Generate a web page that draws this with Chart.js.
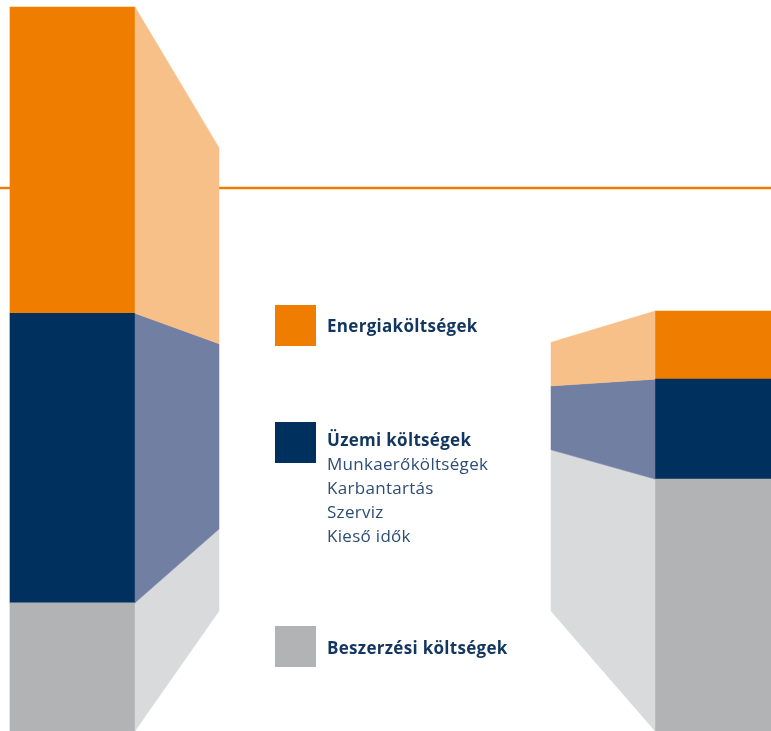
<!DOCTYPE html>
<html>
<head>
<meta charset="utf-8">
<script src="https://cdn.jsdelivr.net/npm/chart.js"></script>
<style>
  html, body { margin: 0; padding: 0; background: #fff; overflow: hidden; }
  #wrap { position: relative; width: 771px; height: 731px; }
  #costs { position: absolute; left: 0; top: 0; }
  .key { position: absolute; left: 275px; width: 41px; height: 41px; }
  .label { position: absolute; left: 327px; font-family: "Open Sans", sans-serif; font-size: 17px; line-height: 24px; letter-spacing: 0.3px; color: #2c4d77; white-space: nowrap; }
  .label b { color: #12365f; font-weight: 700; }
</style>
</head>
<body>
<div id="wrap">
  <canvas id="costs" width="771" height="731"></canvas>
  <div id="legend"></div>
</div>
<script>
// values in % of the left machine's total cost
const machines = ["Hagyományos", "Hatékony"];
const purchase = [17.7, 34.8];
const operating = [40.0, 13.8];
const energy = [42.3, 9.4];
const costNames = ["Beszerzési költségek", "Üzemi költségek", "Energiaköltségek"];
const operatingItems = ["Munkaerőköltségek", "Karbantartás", "Szerviz", "Kieső idők"];
const markerValue = 75;   // orange reference line
const horizonValue = 46;  // height the side faces shrink toward

const frontColors = ["#b2b3b5", "#00305e", "#ef7d00"];
const sideColors = ["#d9dadc", "#717fa2", "#f8c089"];

// side faces + reference line
const depth = {
  id: "depth",
  beforeDatasetsDraw(chart, args, opts) {
    const ctx = chart.ctx;
    const py = chart.scales.y.getPixelForValue(markerValue);
    ctx.save();
    ctx.strokeStyle = opts.lineColor;
    ctx.lineWidth = 2.5;
    ctx.beginPath();
    ctx.moveTo(0, py);
    ctx.lineTo(chart.width, py);
    ctx.stroke();
    ctx.restore();
  },
  afterDatasetsDraw(chart, args, opts) {
    const ctx = chart.ctx;
    const hy = chart.scales.y.getPixelForValue(horizonValue);
    const back = (p) => hy + opts.shrink * (p - hy);
    ctx.save();
    chart.data.datasets.forEach((ds, d) => {
      chart.getDatasetMeta(d).data.forEach((bar, i) => {
        const side = opts.sides[i];
        const x0 = side > 0 ? bar.x + bar.width / 2 : bar.x - bar.width / 2;
        const x1 = x0 + side;
        const top = Math.min(bar.y, bar.base);
        const bottom = Math.max(bar.y, bar.base);
        ctx.fillStyle = sideColors[d];
        ctx.strokeStyle = sideColors[d];
        ctx.lineWidth = 0.5;
        ctx.beginPath();
        ctx.moveTo(x0, top);
        ctx.lineTo(x1, back(top));
        ctx.lineTo(x1, back(bottom));
        ctx.lineTo(x0, bottom);
        ctx.closePath();
        ctx.fill();
        ctx.stroke();
      });
    });
    ctx.restore();
  }
};

new Chart(document.getElementById("costs"), {
  type: "bar",
  data: {
    labels: machines,
    datasets: [
      { label: costNames[0], data: purchase, backgroundColor: frontColors[0] },
      { label: costNames[1], data: operating, backgroundColor: frontColors[1] },
      { label: costNames[2], data: energy, backgroundColor: frontColors[2] },
    ],
  },
  options: {
    responsive: false,
    animation: false,
    events: [],
    layout: { padding: { left: 72.5, right: 53.5, top: 7, bottom: 0 } },
    datasets: { bar: { barThickness: 125, borderWidth: 0, clip: false } },
    scales: {
      x: { display: false, stacked: true, offset: false },
      y: { display: false, stacked: true, min: 0, max: 100 },
    },
    plugins: {
      legend: { display: false },
      tooltip: { enabled: false },
      depth: { lineColor: "#ef7d00", shrink: 0.64, sides: [84, -104] },
    },
  },
  plugins: [depth],
});

// legend
const legend = document.getElementById("legend");
function addRow(color, squareTop, textTop, title, items) {
  const sq = document.createElement("div");
  sq.className = "key";
  sq.style.top = squareTop + "px";
  sq.style.background = color;
  legend.appendChild(sq);
  const lb = document.createElement("div");
  lb.className = "label";
  lb.style.top = textTop + "px";
  lb.innerHTML = "<b>" + title + "</b>" + items.map((t) => "<br>" + t).join("");
  legend.appendChild(lb);
}
addRow(frontColors[2], 305, 314.4, costNames[2], []);
addRow(frontColors[1], 422, 428.4, costNames[1], operatingItems);
addRow(frontColors[0], 626, 636.4, costNames[0], []);
</script>
</body>
</html>
